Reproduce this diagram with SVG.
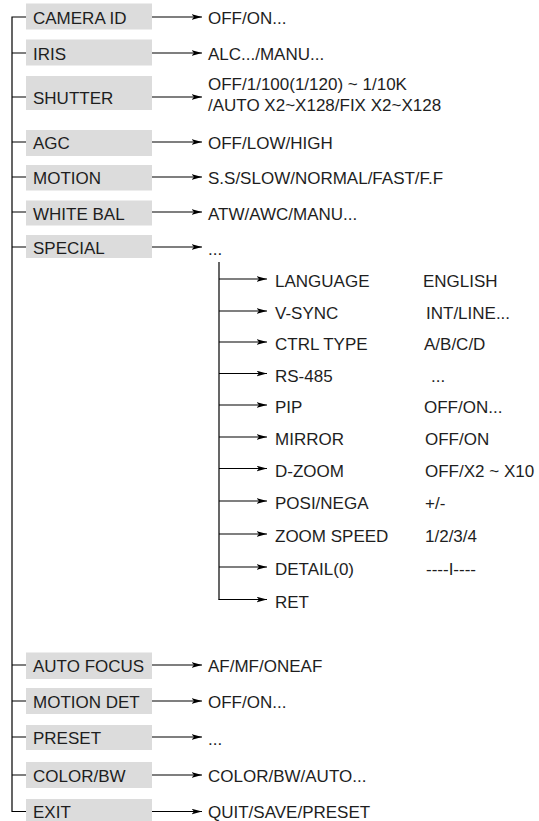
<svg xmlns="http://www.w3.org/2000/svg" width="539" height="821" viewBox="0 0 539 821">
<defs>
<marker id="ah" markerUnits="userSpaceOnUse" markerWidth="11" markerHeight="6" refX="10.5" refY="3" orient="auto">
<path d="M0,0.2 L10.5,3 L0,5.8 L2.5,3 Z" fill="#000"/>
</marker>
<style>
text{font-family:"Liberation Sans",Arial,Helvetica,sans-serif;font-size:17px;fill:#1e1e1e}
.box{fill:#dcdcdc}
.ln{stroke:#000;stroke-width:1.2;fill:none}
.ar{stroke:#000;stroke-width:1.2;fill:none;marker-end:url(#ah)}
</style>
</defs>
<rect width="539" height="821" fill="#fff"/>

<g id="connectors">
<path class="ln" d="M26,17 H12 V811.5 H26"/>
<path class="ln" d="M12,53 H26 M12,97 H26 M12,142 H26 M12,177 H26 M12,212 H26 M12,247 H26 M12,665 H26 M12,701 H26 M12,737 H26 M12,775 H26"/>
<path class="ar" d="M152,17 H202"/>
<path class="ar" d="M152,53 H202"/>
<path class="ar" d="M152,97 H202"/>
<path class="ar" d="M152,142 H202"/>
<path class="ar" d="M152,177 H202"/>
<path class="ar" d="M152,212 H202"/>
<path class="ar" d="M152,247 H202"/>
<path class="ar" d="M152,665 H202"/>
<path class="ar" d="M152,701 H202"/>
<path class="ar" d="M152,737 H202"/>
<path class="ar" d="M152,775 H202"/>
<path class="ar" d="M152,811.5 H202"/>
<path class="ln" d="M219,262 V599.5"/>
<path class="ar" d="M219,279 H267"/>
<path class="ar" d="M219,311 H267"/>
<path class="ar" d="M219,342 H267"/>
<path class="ar" d="M219,373.5 H267"/>
<path class="ar" d="M219,405 H267"/>
<path class="ar" d="M219,437 H267"/>
<path class="ar" d="M219,468.5 H267"/>
<path class="ar" d="M219,501 H267"/>
<path class="ar" d="M219,534 H267"/>
<path class="ar" d="M219,567 H267"/>
<path class="ar" d="M218.4,599.5 H267"/>
</g>

<g id="camera-id"><rect class="box" x="26" y="3.5" width="126" height="26"/><text x="33" y="24">CAMERA ID</text><text x="208" y="24">OFF/ON...</text></g>
<g id="iris"><rect class="box" x="26" y="39.5" width="126" height="26"/><text x="33" y="60">IRIS</text><text x="208" y="60">ALC.../MANU...</text></g>
<g id="shutter"><rect class="box" x="26" y="76" width="126" height="34"/><text x="33" y="103.5">SHUTTER</text><text x="208" y="90">OFF/1/100(1/120) ~ 1/10K</text><text x="208" y="111">/AUTO X2~X128/FIX X2~X128</text></g>
<g id="agc"><rect class="box" x="26" y="130" width="126" height="26"/><text x="33" y="149">AGC</text><text x="208" y="148.5">OFF/LOW/HIGH</text></g>
<g id="motion"><rect class="box" x="26" y="165" width="126" height="25.5"/><text x="33" y="184">MOTION</text><text x="208" y="183.5">S.S/SLOW/NORMAL/FAST/F.F</text></g>
<g id="white-bal"><rect class="box" x="26" y="200.5" width="126" height="25"/><text x="33" y="219.5">WHITE BAL</text><text x="208" y="219.5">ATW/AWC/MANU...</text></g>
<g id="special"><rect class="box" x="26" y="235" width="126" height="23"/><text x="33" y="254">SPECIAL</text><text x="208" y="255">...</text></g>

<g id="language"><text x="275" y="287">LANGUAGE</text><text x="423" y="287">ENGLISH</text></g>
<g id="v-sync"><text x="275" y="319">V-SYNC</text><text x="426" y="319">INT/LINE...</text></g>
<g id="ctrl-type"><text x="275" y="350">CTRL TYPE</text><text x="424" y="350">A/B/C/D</text></g>
<g id="rs-485"><text x="275" y="381.5">RS-485</text><text x="431" y="381.5">...</text></g>
<g id="pip"><text x="275" y="413">PIP</text><text x="424" y="413">OFF/ON...</text></g>
<g id="mirror"><text x="275" y="445">MIRROR</text><text x="425" y="445">OFF/ON</text></g>
<g id="d-zoom"><text x="275" y="476.5">D-ZOOM</text><text x="425" y="476.5">OFF/X2 ~ X10</text></g>
<g id="posi-nega"><text x="275" y="509">POSI/NEGA</text><text x="425" y="509">+/-</text></g>
<g id="zoom-speed"><text x="275" y="542">ZOOM SPEED</text><text x="425" y="542">1/2/3/4</text></g>
<g id="detail"><text x="275" y="575">DETAIL(0)</text><text x="426" y="575">----I----</text></g>
<g id="ret"><text x="275" y="607.5">RET</text></g>

<g id="auto-focus"><rect class="box" x="26" y="652.5" width="126" height="26.5"/><text x="33" y="672">AUTO FOCUS</text><text x="208" y="672">AF/MF/ONEAF</text></g>
<g id="motion-det"><rect class="box" x="26" y="688" width="126" height="26"/><text x="33" y="708">MOTION DET</text><text x="208" y="708">OFF/ON...</text></g>
<g id="preset"><rect class="box" x="26" y="725" width="126" height="25"/><text x="33" y="744">PRESET</text><text x="208" y="745">...</text></g>
<g id="color-bw"><rect class="box" x="26" y="762" width="126" height="26"/><text x="33" y="782">COLOR/BW</text><text x="208" y="782">COLOR/BW/AUTO...</text></g>
<g id="exit"><rect class="box" x="26" y="799" width="126" height="24"/><text x="33" y="817.5">EXIT</text><text x="208" y="817.5">QUIT/SAVE/PRESET</text></g>
</svg>
